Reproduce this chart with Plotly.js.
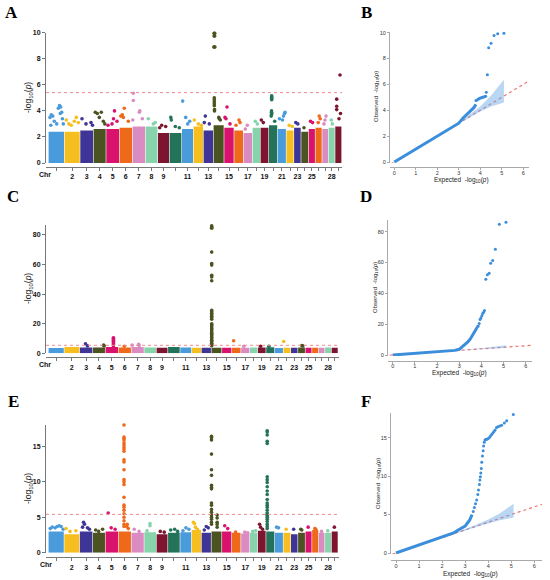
<!DOCTYPE html>
<html><head><meta charset="utf-8">
<script src="https://cdn.plot.ly/plotly-3.0.1.min.js"></script>
<style>html,body{margin:0;padding:0;background:#fff}#plot{width:550px;height:580px}</style>
</head><body><div id="plot"></div>
<script>
// ---------- DATA ----------
const chromosomes = [1,2,3,4,5,6,7,8,9,10,11,12,13,14,15,16,17,18,19,20,21,22,23,24,25,26,27,28,29];
const chrLength = [160,157,133,127,133,130,130,124,116,124,116,100,100,107,100,93,90,80,84,88,87,76,72,75,67,68,63,67,67];
const chrTickLabels = ['','2','3','4','5','6','7','8','9','','11','','13','','15','','17','','19','','21','','23','','25','','','28',''];
const palette = ['#4A9BDC','#F6BE1E','#3E3597','#4B5320','#D8126D','#EE6A1A','#D98BC2','#86D3AC','#7E1530','#23735A'];

// dense core height per chromosome (-log10 p)
const coreA = [2.4,2.4,2.5,2.6,2.6,2.7,2.8,2.8,2.3,2.3,2.6,2.8,2.5,2.9,2.7,2.5,2.3,2.7,2.7,2.9,2.6,2.5,2.7,2.4,2.6,2.7,2.6,2.7,2.8];
const coreC = [3.6,4.3,4.0,4.0,4.3,4.0,4.3,4.0,3.8,4.2,4.0,3.8,3.7,3.8,3.7,3.8,3.7,3.9,3.9,4.1,3.6,3.7,3.7,4.0,3.7,3.8,3.7,3.9,3.8];
const coreE = [3.0,2.6,3.0,2.8,3.0,3.0,2.8,2.9,2.6,2.8,2.9,3.2,2.8,3.0,3.0,2.8,2.7,2.8,3.1,3.0,2.8,2.8,2.6,2.8,3.0,3.2,2.8,2.8,3.0];

// SNPs above the core: [chromosome, position within chromosome, -log10 p]
const hitsA = [[1,17,3.5],[1,30,3.7],[1,45,3.6],[1,60,3.2],[1,84,3.0],[1,100,4.2],[1,112,4.4],[1,124,4.3],[1,134,3.9],[1,120,3.8],[1,141,3.4],[1,25,2.9],[1,150,3.0],
[2,20,3.3],[2,45,3.0],[2,70,2.9],[2,120,3.5],[2,100,3.2],[2,140,3.1],
[3,20,3.4],[3,60,3.0],[3,110,3.1],[3,125,2.9],
[4,20,3.9],[4,40,3.8],[4,80,3.9],[4,60,3.5],[4,100,3.2],[4,115,3.0],
[5,20,2.9],[5,60,3.0],[5,85,4.0],[5,75,3.4],[5,110,3.2],
[6,15,3.6],[6,30,3.7],[6,50,4.2],[6,40,3.5],[6,90,3.2],
[7,5,3.3],[7,10,4.8],[7,10,5.35],[7,70,3.9],[7,75,4.0],[7,100,3.4],
[8,30,3.4],[8,80,3.0],[8,100,3.1],
[9,40,2.9],[9,80,2.8],[9,20,2.7],
[10,15,3.5],[10,20,3.3],[10,60,2.8],[10,100,2.7],
[11,10,4.75],[11,40,3.5],[11,80,3.2],[11,60,3.0],
[12,10,3.3],[12,50,3.0],[12,80,2.9],
[13,20,3.6],[13,10,3.1],[13,60,3.0],
[14,8,9.95],[14,14,9.95],[14,8,9.75],[14,14,9.75],[14,6,8.9],[14,11,8.9],[14,16,8.9],[14,10,5.0],[14,10,4.85],[14,10,4.7],[14,10,4.55],[14,10,4.4],[14,12,4.1],[14,12,4.0],[14,55,3.5],[14,60,3.4],[14,70,3.3],
[15,30,4.3],[15,10,3.5],[15,20,3.4],[15,60,3.0],
[16,50,3.3],[16,60,3.1],[16,20,2.9],
[17,40,2.9],[17,20,2.6],
[18,30,3.2],[18,50,3.0],
[19,10,3.3],[19,30,3.1],
[20,30,5.15],[20,30,5.05],[20,30,4.95],[20,30,4.85],[20,28,4.0],[20,28,3.9],[20,30,3.8],[20,28,3.7],[20,25,3.6],[20,60,3.2],
[21,20,3.4],[21,50,3.3],[21,60,3.6],[21,70,3.8],[21,75,3.9],
[22,30,2.9],[22,60,2.8],
[23,20,3.1],[23,40,3.0],
[24,30,2.7],
[25,20,3.2],[25,40,3.1],
[26,40,3.6],[26,50,3.4],[26,30,3.1],
[27,40,3.6],[27,30,3.3],[27,20,3.0],
[28,30,3.3],[28,40,3.0],
[29,50,6.75],[29,17,4.9],[29,17,4.35],[29,17,4.1],[29,55,3.8],[29,40,3.4]];

const hitsC = [[3,60,6.5],[3,80,5.0],[4,110,5.5],[4,115,5.0],
[5,83,10.5],[5,83,10.1],[5,83,9.4],[5,83,8.7],[5,83,7.9],[5,83,7.2],[5,83,6.4],[5,83,5.7],[5,83,5.0],
[6,60,4.8],[7,10,5.5],[7,75,6.0],[7,80,5.2],
[14,5,86.1],[14,5,85.2],[14,5,84.5],[14,5,68.4],[14,5,60.6],[14,5,59.6],[14,5,52.7],[14,5,51.6],[14,5,49.0],
[14,5,29.0],[14,5,28.0],[14,5,27.0],[14,5,26.0],[14,5,25.0],[14,5,24.0],[14,5,23.0],[14,5,20.0],[14,5,19.2],[14,5,18.5],
[14,5,17.3],[14,5,16.4],[14,5,15.8],[14,5,14.6],[14,5,13.5],[14,5,12.7],[14,5,11.8],[14,5,10.9],[14,5,9.7],[14,5,8.8],
[14,5,7.9],[14,5,6.8],[14,5,5.9],[14,5,5.1],
[16,20,8.5],[17,30,4.7],[19,30,4.8],[20,30,4.8],[22,5,8.0],[24,40,5.3],[24,50,5.0]];

const hitsE = [[1,20,3.4],[1,40,3.6],[1,70,3.5],[1,90,3.7],[1,110,3.8],[1,130,3.7],[1,150,3.3],
[2,20,3.4],[2,60,3.0],[2,120,3.1],
[3,40,4.3],[3,50,4.0],[3,30,3.6],[3,80,3.5],[3,100,3.3],
[4,30,3.2],[4,100,3.3],[4,60,3.0],
[5,30,5.6],[5,60,3.5],[5,100,3.3],
[6,57,18.0],[6,57,16.3],[6,57,16.1],[6,57,15.9],[6,57,15.5],[6,57,15.2],[6,57,14.9],[6,57,14.6],[6,57,14.3],[6,57,13.1],[6,57,12.8],[6,57,11.7],
[6,57,10.3],[6,57,10.0],[6,57,9.6],[6,57,7.8],[6,57,6.7],[6,57,6.4],[6,57,6.0],[6,57,5.5],[6,57,5.0],[6,57,4.5],[6,57,4.0],[6,57,3.7],
[6,90,4.0],[6,85,3.7],[6,100,3.4],
[7,30,3.3],[7,80,3.0],
[8,60,4.1],[8,60,3.8],[8,30,3.1],
[9,40,3.0],[9,80,2.9],
[10,30,3.2],[10,70,3.3],[10,100,3.0],
[11,60,3.5],[11,90,3.3],[11,30,3.1],
[12,20,4.3],[12,30,4.1],[12,40,3.6],[12,60,3.3],
[13,50,3.7],[13,70,3.5],[13,30,3.2],
[14,3,16.4],[14,3,16.2],[14,3,15.9],[14,3,13.9],[14,3,11.7],[14,3,10.9],[14,3,9.5],[14,3,9.2],[14,3,9.0],[14,3,7.0],[14,3,6.7],[14,3,6.1],
[14,3,5.7],[14,3,5.3],[14,3,5.0],[14,3,4.7],[14,3,4.3],[14,3,4.0],
[14,60,5.3],[14,60,4.9],[14,60,4.3],[14,60,4.0],[14,60,3.6],
[15,30,3.8],[15,60,3.4],
[16,40,2.9],
[17,40,2.9],[17,70,2.8],
[18,30,3.0],[18,60,3.1],
[19,20,4.0],[19,30,3.6],[19,50,3.3],
[20,13,17.2],[20,13,17.0],[20,13,16.6],[20,13,15.7],[20,13,15.4],[20,13,10.7],[20,13,10.3],[20,13,9.9],[20,13,9.3],[20,13,8.7],
[20,13,8.2],[20,13,7.5],[20,13,7.0],[20,13,6.7],[20,13,6.4],[20,13,6.0],[20,13,5.6],[20,13,5.4],[20,13,5.2],[20,13,5.0],
[20,13,4.7],[20,13,4.4],[20,13,4.0],[20,13,3.7],[20,13,3.4],
[21,20,3.6],[21,40,3.5],
[22,30,3.3],[23,30,3.3],[24,30,3.3],[24,40,3.2],[25,30,3.6],[26,30,3.4],[26,40,3.3],[27,30,3.0],[28,30,3.1],[29,30,3.6]];

const threshold = 5.4;

// QQ plots: dense part (line) and sparse tail (points)
const qqB_lineExp = [0,1,2,3,3.2,3.4,3.6,3.7,3.8];
const qqB_lineObs = [0,1,2,3,3.4,3.7,4.0,4.2,4.45];
const qqB_ptExp = [3.80,3.85,3.9,3.95,4.0,4.05,4.1,4.15,4.2,4.25,4.28,4.33,4.39,4.5,4.64,4.81,5.1];
const qqB_ptObs = [4.75,4.8,4.85,4.9,4.95,4.97,5.0,5.02,5.04,5.08,5.4,6.75,8.84,9.18,9.77,9.92,9.95];
const qqB_bandExp = [3.0,3.5,4.0,4.5,5.1];
const qqB_bandUp = [3.05,3.65,4.3,5.15,6.35];
const qqB_bandLo = [2.95,3.4,3.9,4.3,4.6];

const qqD_lineExp = [0,1,2,2.8,3.0,3.1,3.2,3.3,3.4,3.5,3.6,3.7,3.8];
const qqD_lineObs = [0,0.9,1.9,3.0,3.7,4.8,5.8,7.0,8.6,10.4,13.0,15.5,17.7];
const qqD_ptExp = [3.82,3.86,3.9,3.94,3.98,4.02,4.06,4.1,4.14,4.2,4.27,4.35,4.42,4.51,4.63,4.81,5.11];
const qqD_ptObs = [18.3,18.8,20.5,23.0,24.0,25.5,27.0,27.8,28.8,49.1,52.0,53.0,59.5,61.3,68.6,84.8,86.1];
const qqD_bandExp = [3.0,4.0,5.1];
const qqD_bandUp = [3.05,4.3,6.35];
const qqD_bandLo = [2.95,3.9,4.6];

const qqF_lineExp = [0,1,2,2.5,2.7,3.0,3.1,3.2,3.3];
const qqF_lineObs = [0,1.05,2.05,2.6,3.0,3.5,3.9,4.3,5.0];
const qqF_ptExp = [3.35,3.4,3.45,3.5,3.55,3.58,3.62,3.64,3.66,3.68,3.7,3.72,3.75,3.78,3.8,3.83,3.86,3.9,3.95,4.0,4.05,4.1,4.15,4.2,4.25,4.3,4.36,4.42,4.5,4.58,4.7,4.8,5.09];
const qqF_ptObs = [5.4,5.9,6.4,6.9,7.6,8.2,8.9,9.5,9.9,10.4,11.0,11.8,12.6,13.3,13.9,14.4,14.7,14.8,14.8,14.9,15.0,15.2,15.4,15.6,15.8,16.0,16.3,16.4,16.5,16.6,16.9,17.2,18.0];
const qqF_bandExp = [2.4,3.0,3.5,4.0,4.5,5.1];
const qqF_bandUp = [2.45,3.1,3.7,4.35,5.15,6.4];
const qqF_bandLo = [2.35,2.9,3.4,3.85,4.25,4.6];

// ---------- BUILD ----------
const W = 550, H = 580;
const px = v => v / W;
const py = v => 1 - v / H;
const FONT = 'Liberation Sans, Arial, sans-serif';

const chrStart = [];
chrLength.reduce((acc, l, i) => { chrStart[i] = acc; return acc + l; }, 0);
const chrCenter = chrLength.map((l, i) => chrStart[i] + l / 2);
const chrColor = chromosomes.map((c, i) => palette[i % palette.length]);
const labeledCenters = chrCenter.filter((c, i) => chrTickLabels[i] !== '');
const labeledText = chrTickLabels.filter(t => t !== '');
const unlabeledCenters = chrCenter.filter((c, i) => chrTickLabels[i] === '');

const data = [];
function manhattan(core, hits, xa, ya) {
  data.push({type:'bar', x: chrCenter, y: core, width: chrLength.map(l => l - 6),
    marker:{color: chrColor, line:{width:0}}, xaxis: xa, yaxis: ya, hoverinfo:'skip'});
  data.push({type:'scatter', mode:'markers',
    x: hits.map(h => chrStart[h[0]-1] + h[1]), y: hits.map(h => h[2]),
    marker:{size:3.6, color: hits.map(h => palette[(h[0]-1) % palette.length])},
    cliponaxis:false, xaxis: xa, yaxis: ya, hoverinfo:'skip'});
}
manhattan(coreA, hitsA, 'x', 'y');
manhattan(coreC, hitsC, 'x3', 'y3');
manhattan(coreE, hitsE, 'x5', 'y5');

const QQBLUE = '#3A8EDB';
function qq(bx, bu, bl, lx, ly, ptx, pty, xa, ya) {
  data.push({type:'scatter', mode:'lines', x: bx.concat(bx.slice().reverse()),
    y: bu.concat(bl.slice().reverse()), fill:'toself', fillcolor:'rgba(100,165,228,0.45)',
    line:{width:0}, xaxis: xa, yaxis: ya, hoverinfo:'skip'});
  data.push({type:'scatter', mode:'lines', x: lx, y: ly, line:{color: QQBLUE, width:3},
    xaxis: xa, yaxis: ya, hoverinfo:'skip'});
  data.push({type:'scatter', mode:'markers', x: ptx, y: pty, marker:{color: QQBLUE, size:3},
    cliponaxis:false, xaxis: xa, yaxis: ya, hoverinfo:'skip'});
}
qq(qqB_bandExp, qqB_bandUp, qqB_bandLo, qqB_lineExp, qqB_lineObs, qqB_ptExp, qqB_ptObs, 'x2', 'y2');
qq(qqD_bandExp, qqD_bandUp, qqD_bandLo, qqD_lineExp, qqD_lineObs, qqD_ptExp, qqD_ptObs, 'x4', 'y4');
qq(qqF_bandExp, qqF_bandUp, qqF_bandLo, qqF_lineExp, qqF_lineObs, qqF_ptExp, qqF_ptObs, 'x6', 'y6');

function mX(domL, domR, range, posY) {
  return {domain:[px(domL), px(domR)], range: range, anchor:'free', position: 1 - posY / H,
    tickmode:'array', tickvals: labeledCenters, ticktext: labeledText, ticks:'outside', ticklen:3,
    tickwidth:1, tickcolor:'#777', showline:true, linecolor:'#777', linewidth:1,
    minor:{tickmode:'array', tickvals: unlabeledCenters, ticks:'outside', ticklen:3, tickwidth:1, tickcolor:'#777', showgrid:false},
    tickfont:{family: FONT, size:7, weight:'bold', color:'#111'},
    showgrid:false, zeroline:false, fixedrange:true};
}
function mY(bottom, top, range, vals, anchor) {
  return {domain:[py(bottom), py(top)], range: range, anchor: anchor, tickmode:'array', tickvals: vals,
    ticks:'outside', ticklen:3, tickwidth:1, tickcolor:'#777', showline:true, linecolor:'#777', linewidth:1,
    tickfont:{family: FONT, size:7, weight:'bold', color:'#111'},
    showgrid:false, zeroline:false, fixedrange:true};
}
function qX(domL, domR, range, posY) {
  return {domain:[px(domL), px(domR)], range: range, anchor:'free', position: 1 - posY / H,
    tickmode:'array', tickvals:[0,1,2,3,4,5,6], ticks:'outside', ticklen:2, tickwidth:1,
    tickcolor:'#aaa', showline:true, linecolor:'#aaa', linewidth:1, ticklabelstandoff:-2,
    tickfont:{family: FONT, size:5.5, color:'#333'}, showgrid:false, zeroline:false, fixedrange:true};
}
function qY(bottom, top, range, vals, anchor) {
  return {domain:[py(bottom), py(top)], range: range, anchor: anchor, tickmode:'array', tickvals: vals,
    ticks:'outside', ticklen:2, tickwidth:1, tickcolor:'#aaa', showline:true, linecolor:'#aaa', linewidth:1,
    tickfont:{family: FONT, size:5.5, color:'#333'}, showgrid:false, zeroline:false, fixedrange:true};
}

const layout = {
  width: W, height: H, margin:{l:0,r:0,t:0,b:0}, showlegend:false,
  paper_bgcolor:'#fff', plot_bgcolor:'rgba(0,0,0,0)', barmode:'overlay',
  font:{family: FONT},
  xaxis:  mX(46, 342, [-23, 2937], 167),
  yaxis:  mY(163, 32.7, [0, 10], [0,2,4,6,8,10], 'x'),
  xaxis3: mX(46, 339, [-23, 2944], 357.3),
  yaxis3: mY(353.3, 225, [0, 86.7], [0,20,40,60,80], 'x3'),
  xaxis5: mX(46, 339, [-23, 2944], 557.3),
  yaxis5: mY(552.7, 425, [0, 18], [0,5,10,15], 'x5'),
  xaxis2: qX(390, 529, [-0.2, 6.266], 167),
  yaxis2: qY(163, 32, [-0.077, 10.05], [0,2,4,6,8,10], 'x2'),
  xaxis4: qX(388, 532, [-0.212, 6.283], 360.7),
  yaxis4: qY(356, 220, [-0.649, 87.6], [0,20,40,60,80], 'x4'),
  xaxis6: qX(391, 542, [-0.217, 6.334], 560),
  yaxis6: qY(554, 413, [-0.13, 18.2], [0,5,10,15], 'x6'),
  shapes: [],
  annotations: []
};

// threshold lines
[['x','y'],['x3','y3'],['x5','y5']].forEach(([xa, ya]) => {
  layout.shapes.push({type:'line', xref: xa + ' domain', x0:0, x1:1, yref: ya, y0: threshold, y1: threshold,
    line:{color:'#F08C8C', width:1, dash:'dot'}, layer:'above'});
});
// QQ diagonals (expected = observed)
[['x2','y2'],['x4','y4'],['x6','y6']].forEach(([xa, ya]) => {
  layout.shapes.push({type:'line', xref: xa, yref: ya, x0:-0.4, y0:-0.4, x1:6.4, y1:6.4,
    line:{color:'#F07070', width:1.2, dash:'dot'}, layer:'below'});
});

function ann(text, x, y, size, opts) {
  layout.annotations.push(Object.assign({text: text, xref:'paper', yref:'paper', x: px(x), y: py(y),
    xanchor:'center', yanchor:'middle', showarrow:false, font:{family: FONT, size: size, color:'#222'}}, opts || {}));
}
const serif = {family:'Liberation Serif, Times New Roman, serif', size:17, color:'#000', weight:'bold'};
[['A',11,13],['C',13,196],['E',13,401],['B',366,13],['D',366,196],['F',366,401]].forEach(([t,x,y]) => {
  ann(t, x, y, 17, {font: serif});
});
const ylab = '-log<sub>10</sub>(<i>p</i>)';
ann(ylab, 28, 98, 8.5, {textangle:-90});
ann(ylab, 28, 289, 8.5, {textangle:-90});
ann(ylab, 28, 489, 8.5, {textangle:-90});
const chrFont = {family: FONT, size:7, weight:'bold', color:'#111'};
ann('Chr', 45, 174.5, 7, {font: chrFont});
ann('Chr', 45, 364.8, 7, {font: chrFont});
ann('Chr', 46, 564.8, 7, {font: chrFont});
const obsLab = 'Observed  -log<sub>10</sub>(<i>p</i>)';
const expLab = 'Expected  -log<sub>10</sub>(<i>p</i>)';
ann(obsLab, 376, 97, 6, {textangle:-90});
ann(obsLab, 375, 288, 6, {textangle:-90});
ann(obsLab, 378, 484, 6, {textangle:-90});
ann(expLab, 461, 180.5, 6.5);
ann(expLab, 459, 373, 6.5);
ann(expLab, 470, 573.5, 6.5);

Plotly.newPlot('plot', data, layout, {staticPlot:true, displayModeBar:false});
</script></body></html>
